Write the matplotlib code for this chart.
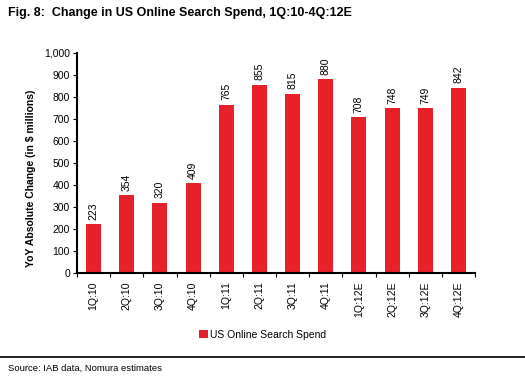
import matplotlib
matplotlib.use("Agg")
import matplotlib.pyplot as plt
from matplotlib.lines import Line2D

plt.rcParams["font.family"] = ["Liberation Sans", "DejaVu Sans"]

quarters = ["1Q:10", "2Q:10", "3Q:10", "4Q:10", "1Q:11", "2Q:11", "3Q:11",
            "4Q:11", "1Q:12E", "2Q:12E", "3Q:12E", "4Q:12E"]
spend = [223, 354, 320, 409, 765, 855, 815, 880, 708, 748, 749, 842]
bar_color = "#E8202A"

fig = plt.figure(figsize=(5.25, 3.78), dpi=100)
ax = fig.add_axes([0.1467, 0.2778, 0.7581, 0.582])

x = list(range(len(quarters)))
bars = ax.bar(x, spend, width=0.45, color=bar_color, label="US Online Search Spend")
for xi, v in zip(x, spend):
    ax.text(xi, v + 20, str(v), rotation=90, ha="center", va="bottom", fontsize=7.5)

ax.set_xlim(-0.5, len(quarters) - 0.5)
ax.set_ylim(0, 1000)
ax.set_yticks(range(0, 1001, 100))
ax.set_yticklabels([f"{v:,}" for v in range(0, 1001, 100)], fontsize=7.5)
ax.set_xticks(x)
ax.set_xticklabels(quarters, rotation=90, fontsize=7.5)
ax.set_xticks([i - 0.5 for i in range(len(quarters) + 1)], minor=True)
ax.tick_params(axis="x", which="major", length=0, pad=6)
ax.tick_params(axis="x", which="minor", length=3, width=0.8)
ax.tick_params(axis="y", length=3, width=0.8, pad=2)

for s in ["top", "right"]:
    ax.spines[s].set_visible(False)
ax.spines["left"].set_linewidth(1.5)
ax.spines["bottom"].set_linewidth(1.5)

ax.set_ylabel("YoY Absolute Change (in $ millions)", fontsize=7.5, fontweight="bold")
ax.yaxis.set_label_coords(-0.103, 0.43)

fig.legend(handles=[bars], loc="center", bbox_to_anchor=(0.5, 1 - 335 / 378),
           frameon=False, fontsize=7.5, handlelength=0.8, handleheight=0.8,
           handletextpad=0.2)

fig.text(8 / 525, 1 - 13 / 378, "Fig. 8:  Change in US Online Search Spend, 1Q:10-4Q:12E",
         fontsize=9, fontweight="bold", va="center", ha="left")
fig.add_artist(Line2D([0, 1], [1 - 357 / 378, 1 - 357 / 378], color="black", linewidth=1.2))
fig.text(8 / 525, 1 - 368 / 378, "Source: IAB data, Nomura estimates", fontsize=6.8,
         va="center", ha="left")

fig.savefig("out.png", dpi=100)
